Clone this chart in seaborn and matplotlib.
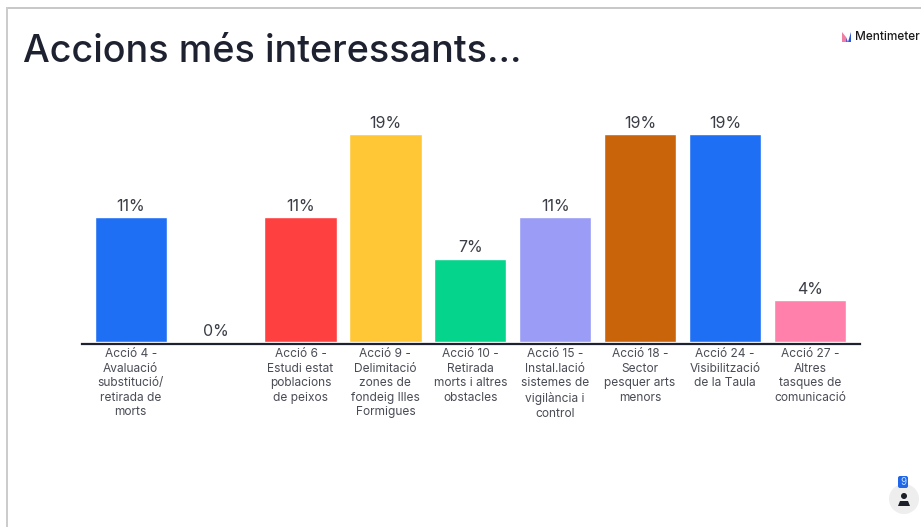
import matplotlib
matplotlib.use("Agg")
import matplotlib.pyplot as plt
from matplotlib.patches import Circle, Polygon, Rectangle, FancyBboxPatch
import pandas as pd
import seaborn as sns

# votes as share of total, shown rounded above each bar
categories = ["Acció 4 -\nAvaluació\nsubstitució/\nretirada de\nmorts",
              "",
              "Acció 6 -\nEstudi estat\npoblacions\nde peixos",
              "Acció 9 -\nDelimitació\nzones de\nfondeig Illes\nFormigues",
              "Acció 10 -\nRetirada\nmorts i altres\nobstacles",
              "Acció 15 -\nInstal.lació\nsistemes de\nvigilància i\ncontrol",
              "Acció 18 -\nSector\npesquer arts\nmenors",
              "Acció 24 -\nVisibilització\nde la Taula",
              "Acció 27 -\nAltres\ntasques de\ncomunicació"]
values = [11.11, 0, 11.11, 18.52, 7.41, 11.11, 18.52, 18.52, 3.70]
colors = ["#1f6ff5", "#b0b0b0", "#ff4040", "#ffc636", "#05d48c",
          "#9a9cf5", "#c9640a", "#1f6ff5", "#ff80ab"]

W, H = 921, 527
text_col = "#1e2230"

sns.set_theme(style="white")
plt.rcParams['font.family'] = ['Inter', 'DejaVu Sans']

df = pd.DataFrame({"cat": [str(i) for i in range(len(values))], "val": values})

fig = plt.figure(figsize=(W / 100, H / 100), dpi=100, facecolor="white")
# axes spans axis line (x 82-860) and top of the plot area
top_px, base_px = 100, 344
ax = fig.add_axes([82 / W, 1 - base_px / H, (860 - 82) / W, (base_px - top_px) / H])

sns.barplot(data=df, x="cat", y="val", hue="cat", palette=colors, legend=False,
            width=0.852, saturation=1, ax=ax)

px_per_pct = 208 / 18.52
ax.set_xlim(-0.574, 8.591)
ax.set_ylim(-2 / px_per_pct, (base_px - top_px - 2) / px_per_pct)

for i, v in enumerate(values):
    ax.annotate(f"{v:.0f}%", (i, v), xytext=(0, 2.5), textcoords="offset points",
                ha="center", va="bottom", fontsize=11.5, color="#3a3d45")

ax.set_xticks(range(len(categories)))
ax.set_xticklabels(categories, fontsize=8.6, color="#4a4c55", linespacing=1.285)
ax.set_xlabel("")
ax.set_ylabel("")
ax.set_yticks([])
ax.tick_params(axis="x", length=0, pad=3)
sns.despine(ax=ax, left=True)
ax.spines["bottom"].set_color(text_col)
ax.spines["bottom"].set_linewidth(1.6)

title = fig.text(23 / W, 1 - 62 / H, "Accions més interessants...", fontsize=27.2,
                 color=text_col, ha="left", va="baseline", fontweight="medium")

# screenshot frame
def px_rect(x, y, w, h, **kw):
    fig.add_artist(Rectangle((x / W, 1 - (y + h) / H), w / W, h / H,
                             transform=fig.transFigure, lw=0, **kw))

px_rect(6, 7, W - 6, 2, color="#c8c8c8")
px_rect(6, 7, 2, H, color="#cccccc")

# Mentimeter logo
def px_poly(pts, col):
    fig.add_artist(Polygon([(x / W, 1 - y / H) for x, y in pts],
                           transform=fig.transFigure, color=col, lw=0))

px_poly([(842, 42), (842, 32), (846, 37), (846, 42)], "#f07fa6")
px_poly([(846, 42), (846, 37), (848, 42)], "#7a4fc0")
px_poly([(848, 42), (851, 32), (851, 42)], "#2a55d8")
fig.text(855 / W, 1 - 37 / H, "Mentimeter", fontsize=8.5, color="#1a1a1a",
         ha="left", va="center", fontweight="medium")

# participant counter
ax_icon = fig.add_axes([0, 0, 1, 1], facecolor="none")
ax_icon.set_xlim(0, W)
ax_icon.set_ylim(H, 0)
ax_icon.axis("off")
ax_icon.add_patch(Circle((904, 499), 15, color="#eeeeef", lw=0))
ax_icon.add_patch(Circle((904, 496), 3, color="#1c1f2a", lw=0))
ax_icon.add_patch(Polygon([(898, 506), (900, 501), (908, 501), (910, 506)],
                          color="#1c1f2a", lw=0))
ax_icon.add_patch(FancyBboxPatch((898, 476), 10, 12, boxstyle="round,pad=0,rounding_size=2",
                                 color="#2166e8", lw=0))
ax_icon.text(903, 482, "9", fontsize=7, color="#bfe0ff", ha="center", va="center")

fig.savefig("out.png", dpi=100)
